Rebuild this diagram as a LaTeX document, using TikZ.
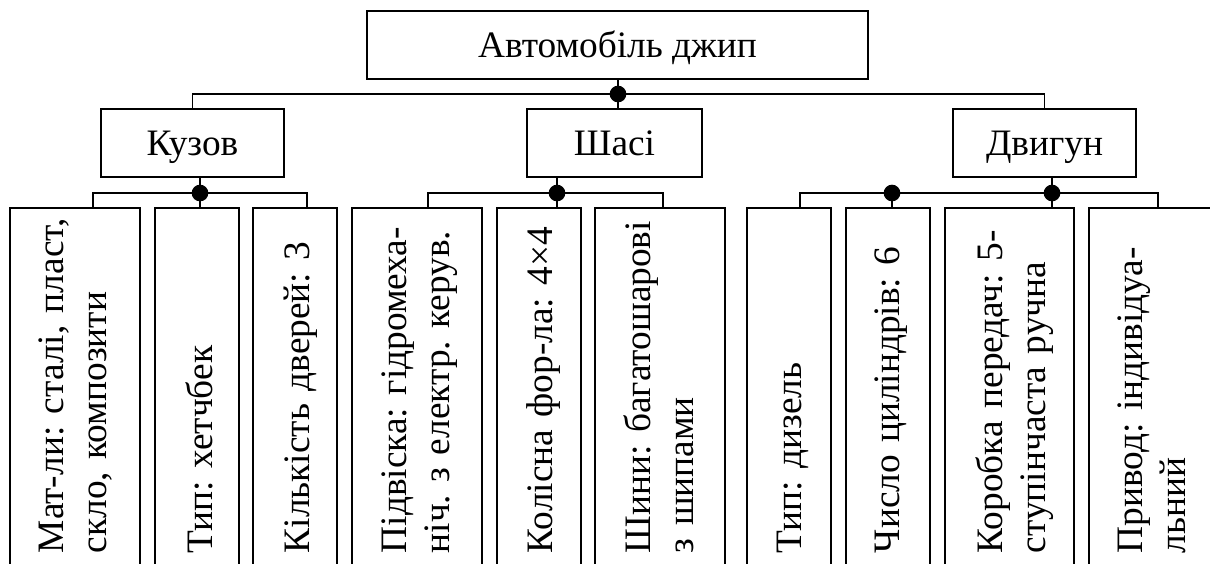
\documentclass[tikz,border=0pt]{standalone}
\usepackage{fontspec}
\setmainfont{Liberation Serif}
\usetikzlibrary{positioning,calc}
\newcommand{\jline}[1]{\makebox[121.5pt][s]{#1}}

\begin{document}
\begin{tikzpicture}[x=0.375pt, y=-0.375pt, node distance=5.5pt, line width=0.65pt]
	\tikzset{n/.style={draw, rectangle, inner sep=0pt, outer sep=0pt, minimum height=25.5pt, text height=10pt, text depth=1pt, font=\fontsize{14}{16}\selectfont},
	lf/.style={draw, rectangle, inner sep=0pt, outer sep=0pt, minimum height=150pt},
	tx/.style={rotate=90, anchor=north west, inner sep=0pt, text width=135pt, align=left, font=\fontsize{14}{16.1}\selectfont\frenchspacing},
	dt/.style={circle, fill=black, inner sep=0pt, minimum size=6.25pt}};

	\path[use as bounding box, clip] (0,0) rectangle (1210,563);

	\node[n, minimum width=187.9pt] (car) at (617.5,45) {Автомобіль джип};
	\node[n, minimum width=68.6pt] (body) at (192.5,143) {Кузов};
	\node[n, minimum width=65.6pt] (chassis) at (614.5,143) {Шасі};
	\node[n, minimum width=68.6pt] (engine) at (1044.5,143) {Двигун};

	\node[lf, minimum width=48.75pt, anchor=north west] (m1) at (10,208) {};
	\node[lf, minimum width=31.5pt, right=of m1] (m2) {};
	\node[lf, minimum width=31.5pt, right=of m2] (m3) {};
	\node[lf, minimum width=48.75pt, right=of m3] (c1) {};
	\node[lf, minimum width=31.5pt, right=of c1] (c2) {};
	\node[lf, minimum width=48.75pt, right=of c2] (c3) {};
	\node[lf, minimum width=31.5pt, right=8.25pt of c3] (e1) {};
	\node[lf, minimum width=31.5pt, right=of e1] (e2) {};
	\node[lf, minimum width=48.5pt, right=of e2] (e3) {};
	\node[lf, minimum width=48.75pt, right=of e3] (e4) {};

	\node[tx] (m1t) at ($(m1.north west)+(28,346)$) {\jline{Мат-ли: сталі, пласт,}\\скло, композити};
	\node[tx] (m2t) at ($(m2.north west)+(30,346)$) {Тип: хетчбек};
	\node[tx] (m3t) at ($(m3.north west)+(30,346)$) {Кількість дверей: 3};
	\node[tx] (c1t) at ($(c1.north west)+(29,346)$) {\jline{Підвіска: гідромеха-}\\ніч. з електр. керув.};
	\node[tx] (c2t) at ($(c2.north west)+(29,346)$) {Колісна фор-ла: 4×4};
	\node[tx] (c3t) at ($(c3.north west)+(28,346)$) {\jline{Шини: багатошарові}\\з шипами};
	\node[tx] (e1t) at ($(e1.north west)+(29,346)$) {Тип: дизель};
	\node[tx] (e2t) at ($(e2.north west)+(28,346)$) {Число циліндрів: 6};
	\node[tx] (e3t) at ($(e3.north west)+(30,346)$) {\jline{Коробка передач: 5-}\\ступінчаста ручна};
	\node[tx] (e4t) at ($(e4.north west)+(28,346)$) {\jline{Привод: індивідуа-}\\льний};

	\coordinate (j0) at (618,94);
	\coordinate (jb) at (200,193);
	\coordinate (jc) at (557,193);
	\coordinate (jd) at (892,193);
	\coordinate (je) at (1052,193);

	\draw (body.north) |- (j0) -| (engine.north);
	\draw (car.south -| j0) -- (chassis.north -| j0);
	\draw (body.south -| jb) -- (m2.north -| jb);
	\draw ($(m1.north)+(18,0)$) |- (jb) -| ($(m3.north)+(12,0)$);
	\draw (chassis.south -| jc) -- (c2.north -| jc);
	\draw ($(c1.north)+(11,0)$) |- (jc) -| ($(c3.north)+(3,0)$);
	\draw (engine.south -| je) -- (e3.north -| je);
	\draw (jd) -- (e2.north -| jd);
	\draw ($(e1.north)+(11,0)$) |- (je) -| ($(e4.north)+(4,0)$);

	\node[dt] (d0) at (j0) {};
	\node[dt] (db) at (jb) {};
	\node[dt] (dc) at (jc) {};
	\node[dt] (dd) at (jd) {};
	\node[dt] (de) at (je) {};
\end{tikzpicture}
\end{document}
